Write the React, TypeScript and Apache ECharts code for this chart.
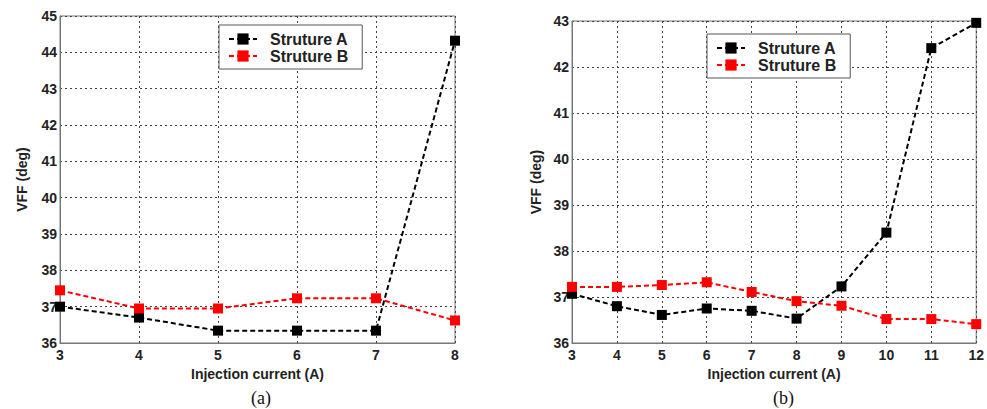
import React, { useEffect, useRef } from "react";
import * as echarts from "echarts";

// Panel (a)
const currentA: number[] = [3, 4, 5, 6, 7, 8];
const vffA_StructA: number[] = [37.0, 36.7, 36.34, 36.34, 36.34, 44.32];
const vffA_StructB: number[] = [37.45, 36.95, 36.95, 37.23, 37.23, 36.62];

// Panel (b)
const currentB: number[] = [3, 4, 5, 6, 7, 8, 9, 10, 11, 12];
const vffB_StructA: number[] = [37.07, 36.8, 36.61, 36.75, 36.7, 36.53, 37.23, 38.4, 42.41, 42.96];
const vffB_StructB: number[] = [37.22, 37.22, 37.26, 37.32, 37.11, 36.91, 36.81, 36.52, 36.52, 36.41];

const seriesNames: string[] = ["Struture A", "Struture B"];
const seriesColors: string[] = ["#000000", "#ff0000"];
const captions: string[] = ["(a)", "(b)"];
const xTitle = "Injection current (A)";
const yTitle = "VFF (deg)";

const pair = (xs: number[], ys: number[]) => xs.map((x, i) => [x, ys[i]]);

const FONT = "Liberation Sans, Arial, sans-serif";

function makeXAxis(gridIndex: number, min: number, max: number) {
  return {
    type: "value",
    gridIndex,
    min,
    max,
    interval: 1,
    name: xTitle,
    nameLocation: "middle",
    nameGap: 22,
    nameTextStyle: { fontFamily: FONT, fontWeight: "bold", fontSize: 14, color: "#222" },
    axisLine: { show: true, lineStyle: { color: "#777", width: 1 } },
    axisTick: { show: false },
    axisLabel: { fontFamily: FONT, fontWeight: "bold", fontSize: 14, color: "#222", margin: 5 },
    splitLine: { show: true, lineStyle: { color: "#444", type: [2, 3], width: 1 } },
  };
}

function makeYAxis(gridIndex: number, min: number, max: number, gap: number) {
  return {
    type: "value",
    gridIndex,
    min,
    max,
    interval: 1,
    name: yTitle,
    nameLocation: "middle",
    nameRotate: 90,
    nameGap: gap,
    nameTextStyle: { fontFamily: FONT, fontWeight: "bold", fontSize: 14, color: "#222" },
    axisLine: { show: true, lineStyle: { color: "#777", width: 1 } },
    axisTick: { show: false },
    axisLabel: { fontFamily: FONT, fontWeight: "bold", fontSize: 14, color: "#222", margin: 3 },
    splitLine: { show: true, lineStyle: { color: "#444", type: [2, 3], width: 1 } },
  };
}

function makeSeries(name: string, color: string, data: number[][], axisIndex: number) {
  return {
    type: "line",
    name,
    xAxisIndex: axisIndex,
    yAxisIndex: axisIndex,
    data,
    symbol: "rect",
    symbolSize: 10,
    itemStyle: { color },
    lineStyle: { color, width: 2, type: [5, 3] },
    z: 5,
  };
}

function makeLegend(left: number, top: number) {
  return {
    orient: "vertical",
    left,
    top,
    data: seriesNames,
    backgroundColor: "#fff",
    borderColor: "#555",
    borderWidth: 1,
    padding: [6, 14, 5, 9],
    itemGap: 1,
    itemWidth: 28,
    itemHeight: 14,
    selectedMode: false,
    textStyle: { fontFamily: FONT, fontWeight: "bold", fontSize: 16, color: "#222", padding: [0, 0, 0, 8] },
    z: 10,
  };
}

export default function App() {
  const ref = useRef<HTMLDivElement>(null);
  useEffect(() => {
    if (!ref.current) return;
    const chart = echarts.init(ref.current, undefined, { renderer: "svg" });
    chart.setOption({
      animation: false,
      backgroundColor: "#fff",
      grid: [
        { left: 60, top: 16, width: 395, height: 327, show: true, borderColor: "#777", borderWidth: 1, backgroundColor: "transparent" },
        { left: 572, top: 21, width: 409, height: 322, show: true, borderColor: "#777", borderWidth: 1, backgroundColor: "transparent" },
      ],
      xAxis: [makeXAxis(0, 3, 8), makeXAxis(1, 3, 12)],
      yAxis: [makeYAxis(0, 36, 45, 31), makeYAxis(1, 36, 43, 29)],
      legend: [makeLegend(219, 25), makeLegend(707, 34)],
      series: [
        makeSeries(seriesNames[0], seriesColors[0], pair(currentA, vffA_StructA), 0),
        makeSeries(seriesNames[1], seriesColors[1], pair(currentA, vffA_StructB), 0),
        makeSeries(seriesNames[0], seriesColors[0], pair(currentB, vffB_StructA), 1),
        makeSeries(seriesNames[1], seriesColors[1], pair(currentB, vffB_StructB), 1),
      ],
      graphic: [
        {
          type: "text",
          left: 251,
          top: 389,
          style: { text: captions[0], font: "18px 'Liberation Serif', 'Times New Roman', serif", fill: "#111" },
        },
        {
          type: "text",
          left: 773,
          top: 389,
          style: { text: captions[1], font: "18px 'Liberation Serif', 'Times New Roman', serif", fill: "#111" },
        },
      ],
    });
    return () => chart.dispose();
  }, []);
  return (
    <div
      ref={ref}
      style={{ position: "fixed", left: 0, top: 0, width: 987, height: 409, background: "#fff" }}
    />
  );
}
